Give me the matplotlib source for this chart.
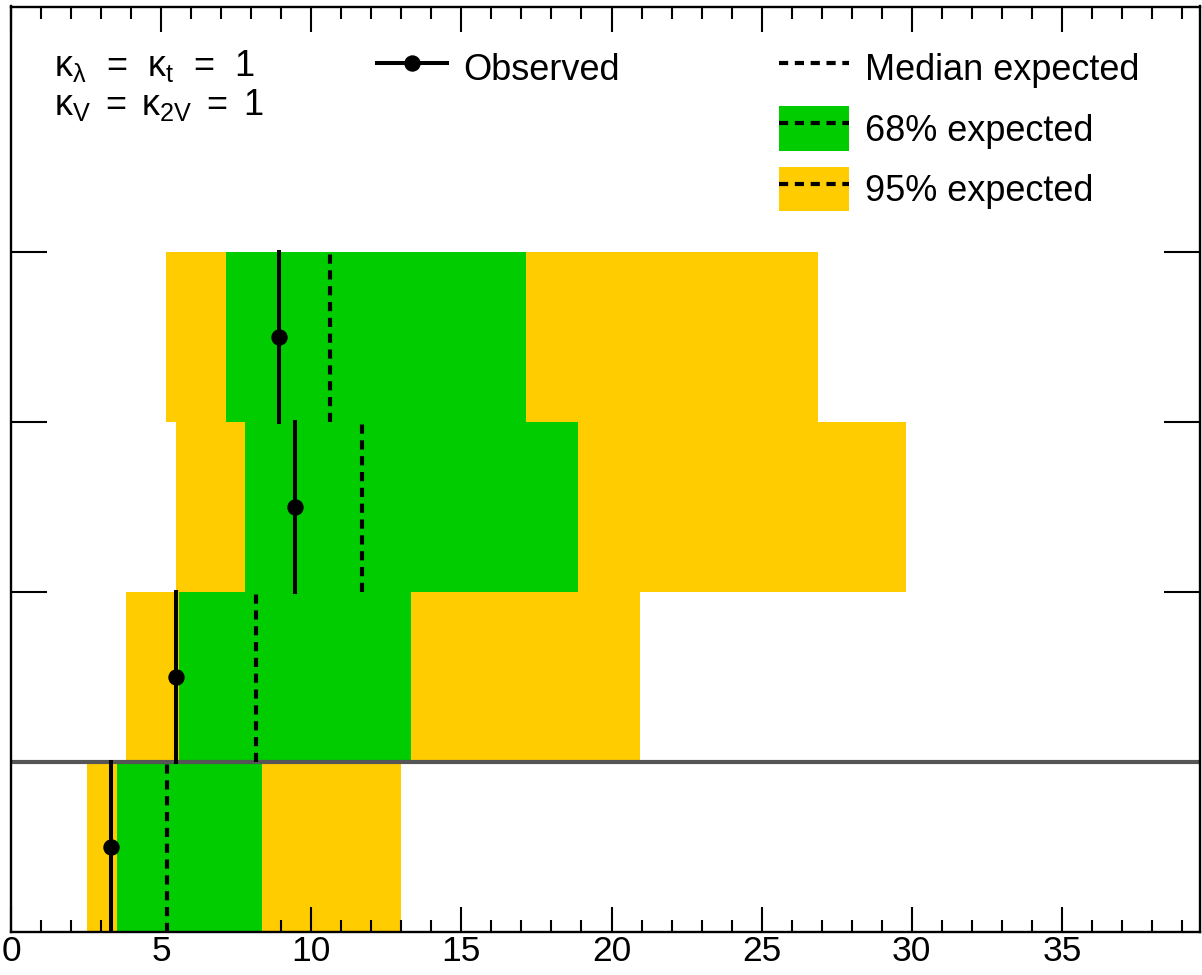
import matplotlib
matplotlib.use('Agg')
import matplotlib.pyplot as plt
from matplotlib.patches import Patch
from matplotlib.lines import Line2D
from matplotlib.ticker import MultipleLocator, NullFormatter

plt.rcParams['font.family'] = ['Liberation Sans', 'DejaVu Sans']
plt.rcParams['mathtext.fontset'] = 'custom'
plt.rcParams['mathtext.rm'] = 'Liberation Sans'
plt.rcParams['mathtext.it'] = 'Liberation Sans'
plt.rcParams['mathtext.default'] = 'rm'

# limits per row (bottom to top)
rows = [0, 1, 2, 3]
observed = [3.33, 5.51, 9.47, 8.93]
exp_median = [5.21, 8.15, 11.69, 10.63]
exp_68_lo = [3.54, 5.59, 7.79, 7.15]
exp_68_hi = [8.36, 13.31, 18.88, 17.16]
exp_95_lo = [2.54, 3.83, 5.51, 5.15]
exp_95_hi = [13.00, 20.95, 29.82, 26.88]

green = '#00cc00'
yellow = '#ffcc00'
dash = (2.2, 1.6)

fig = plt.figure(figsize=(12.02, 9.75), dpi=100)
ax = fig.add_axes([11 / 1202, 43 / 975, 1189 / 1202, 925.5 / 975])

for i, r in enumerate(rows):
    ax.barh(r + 0.5, exp_95_hi[i] - exp_95_lo[i], left=exp_95_lo[i], height=1,
            color=yellow, linewidth=0, zorder=1)
    ax.barh(r + 0.5, exp_68_hi[i] - exp_68_lo[i], left=exp_68_lo[i], height=1,
            color=green, linewidth=0, zorder=2)
    ax.plot([exp_median[i]] * 2, [r, r + 1], color='black', lw=3,
            dashes=dash, zorder=4)
    ax.plot([observed[i]] * 2, [r, r + 1], color='black', lw=2.9, zorder=5)
    ax.plot(observed[i], r + 0.5, 'o', color='black', ms=10.8, zorder=6)

# separator between first row and the rest
ax.axhline(1, color='#555555', lw=3, zorder=3)

ax.set_xlim(0, 39.6)
ax.set_ylim(0, 5.444)

ax.xaxis.set_major_locator(MultipleLocator(5))
ax.xaxis.set_minor_locator(MultipleLocator(1))
ax.set_yticks([1, 2, 3, 4])
ax.yaxis.set_major_formatter(NullFormatter())
ax.tick_params(axis='x', which='major', direction='in', length=18, width=1.5,
               top=True, labelsize=25.5, pad=2)
ax.tick_params(axis='x', which='minor', direction='in', length=8.6, width=1.5,
               top=True)
ax.tick_params(axis='y', which='major', direction='in', length=26, width=1.5,
               right=True)
for sp in ax.spines.values():
    sp.set_linewidth(1.7)
    sp.set_zorder(7)

# legends
h_obs = Line2D([], [], color='black', lw=2.9, marker='o', ms=10.8)
leg1 = ax.legend([h_obs], ['Observed'], loc='upper left',
                 bbox_to_anchor=(377 / 1202, 1 - 46 / 975),
                 bbox_transform=fig.transFigure, frameon=False,
                 fontsize=26, handlelength=1.94, handletextpad=0.44,
                 handleheight=1.53, borderpad=0, borderaxespad=0)
ax.add_artist(leg1)

h_med = Line2D([], [], color='black', lw=3, dashes=dash)
h_68 = (Patch(facecolor=green, linewidth=0), Line2D([], [], color='black', lw=3, dashes=dash))
h_95 = (Patch(facecolor=yellow, linewidth=0), Line2D([], [], color='black', lw=3, dashes=dash))
ax.legend([h_med, h_68, h_95], ['Median expected', '68% expected', '95% expected'],
          loc='upper left', bbox_to_anchor=(779 / 1202, 1 - 46 / 975),
          bbox_transform=fig.transFigure, frameon=False,
          fontsize=26, handlelength=1.94, handletextpad=0.44,
          handleheight=1.53, labelspacing=0.43, borderpad=0, borderaxespad=0)

fig.text(54 / 1202, 1 - 76 / 975, r'$\kappa_{\lambda}$  =  $\kappa_{t}$  =  1',
         fontsize=26, va='baseline', ha='left')
fig.text(54 / 1202, 1 - 115 / 975, r'$\kappa_{V}\,$ = $\,\kappa_{2V}\,$ = $\,$1',
         fontsize=26, va='baseline', ha='left')

fig.savefig('out.png', dpi=100)
